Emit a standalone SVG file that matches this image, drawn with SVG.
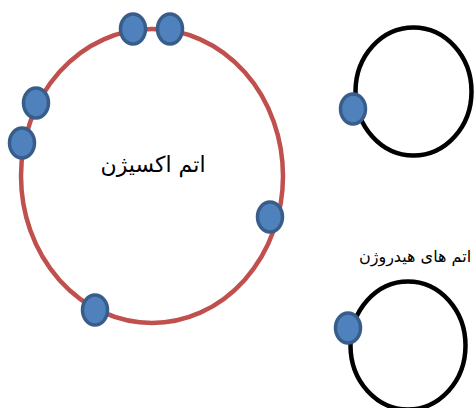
<svg xmlns="http://www.w3.org/2000/svg" width="475" height="408" viewBox="0 0 475 408">
<style>
.orbit-o{fill:none;stroke:#C0504D;stroke-width:4.5}
.orbit-h{fill:none;stroke:#000;stroke-width:4.5}
.e{fill:#4F81BD;stroke:#385D8A;stroke-width:3.5}
.lbl{font-family:"DejaVu Sans","Liberation Sans",sans-serif;fill:#000;text-anchor:middle}
</style>
<rect width="475" height="408" fill="#fff"/>
<g id="oxygen">
<ellipse class="orbit-o" cx="152" cy="176" rx="131" ry="147"/>
<text class="lbl" x="153" y="172" font-size="22" direction="rtl">اتم اکسیژن</text>
</g>
<g id="hydrogen1">
<ellipse class="orbit-h" cx="413.5" cy="91.5" rx="58" ry="64"/>
</g>
<g id="hydrogen2">
<ellipse class="orbit-h" cx="408" cy="345.5" rx="57.5" ry="64"/>
</g>
<g id="hydrogen-label">
<text class="lbl" x="415" y="262" font-size="16" direction="rtl">اتم های هیدروژن</text>
</g>
<g id="electrons">
<ellipse class="e" cx="133" cy="29" rx="12.5" ry="15"/>
<ellipse class="e" cx="170" cy="29" rx="12.5" ry="15"/>
<ellipse class="e" cx="36" cy="103" rx="12.5" ry="15"/>
<ellipse class="e" cx="22" cy="143" rx="12.5" ry="15"/>
<ellipse class="e" cx="270" cy="217" rx="12.5" ry="15"/>
<ellipse class="e" cx="95" cy="310" rx="12.5" ry="15"/>
<ellipse class="e" cx="353" cy="109" rx="12.5" ry="15"/>
<ellipse class="e" cx="348" cy="328" rx="12.5" ry="15"/>
</g>
<g id="connectors"></g>
</svg>
